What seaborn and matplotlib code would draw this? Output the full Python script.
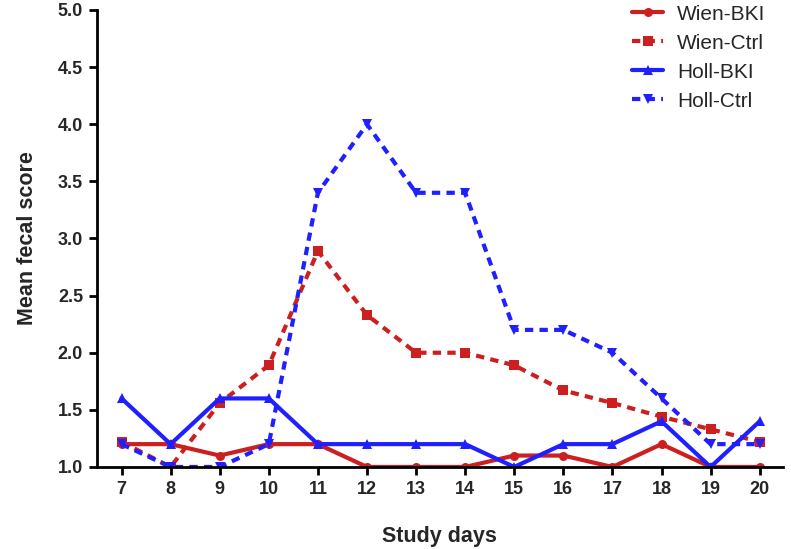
import numpy as np
import pandas as pd
import seaborn as sns
import matplotlib
matplotlib.use("Agg")
import matplotlib.pyplot as plt

# values
days = [7, 8, 9, 10, 11, 12, 13, 14, 15, 16, 17, 18, 19, 20]
wien_bki = [1.2, 1.2, 1.1, 1.2, 1.2, 1.0, 1.0, 1.0, 1.1, 1.1, 1.0, 1.2, 1.0, 1.0]
wien_ctrl = [1.22, 1.0, 1.56, 1.89, 2.89, 2.33, 2.0, 2.0, 1.89, 1.67, 1.56, 1.44, 1.33, 1.22]
holl_bki = [1.6, 1.2, 1.6, 1.6, 1.2, 1.2, 1.2, 1.2, 1.0, 1.2, 1.2, 1.4, 1.0, 1.4]
holl_ctrl = [1.2, 1.0, 1.0, 1.2, 3.4, 4.0, 3.4, 3.4, 2.2, 2.2, 2.0, 1.6, 1.2, 1.2]

series_names = ["Wien-BKI", "Wien-Ctrl", "Holl-BKI", "Holl-Ctrl"]
series_vals = [wien_bki, wien_ctrl, holl_bki, holl_ctrl]

red = "#cc1f1f"
blue = "#1f1fff"
styles = {
    "Wien-BKI": dict(color=red, linestyle="-", marker="o"),
    "Wien-Ctrl": dict(color=red, linestyle=(0, (2, 1.5)), marker="s"),
    "Holl-BKI": dict(color=blue, linestyle="-", marker="^"),
    "Holl-Ctrl": dict(color=blue, linestyle=(0, (2, 1.5)), marker="v"),
}

df = pd.DataFrame({"day": days})
for name, vals in zip(series_names, series_vals):
    df[name] = vals
long = df.melt(id_vars="day", var_name="group", value_name="score")

sns.set_style("ticks")
plt.rcParams["font.family"] = ["Liberation Sans", "DejaVu Sans"]

fig = plt.figure(figsize=(7.91, 5.49), dpi=100)
ax = fig.add_axes([0.1226, 0.1494, 0.867, 0.8324])

for name in series_names:
    sub = long[long["group"] == name]
    st = styles[name]
    sns.lineplot(data=sub, x="day", y="score", ax=ax, label=name,
                 color=st["color"], linestyle=st["linestyle"], marker=st["marker"],
                 markersize=6.5, markeredgewidth=0, linewidth=3)

ax.set_xlim(6.5, 20.47)
ax.set_ylim(1.0, 5.0)
ax.set_xticks(days)
yt = np.arange(1.0, 5.01, 0.5)
ax.set_yticks(yt)
ax.set_yticklabels([f"{v:.1f}" for v in yt])
for lab in ax.get_xticklabels() + ax.get_yticklabels():
    lab.set_fontweight("bold")
ax.tick_params(axis="both", labelsize=13, width=2, length=6, color="black", pad=4)
for s in ["left", "bottom"]:
    ax.spines[s].set_linewidth(2)
    ax.spines[s].set_color("black")
sns.despine(ax=ax)

ax.set_xlabel("Study days", fontsize=15.5, fontweight="bold", labelpad=20)
ax.set_ylabel("Mean fecal score", fontsize=15.5, fontweight="bold", labelpad=14)

ax.legend(loc="upper right", bbox_to_anchor=(0.975, 1.012), frameon=False,
          fontsize=15, handlelength=1.45, handletextpad=0.7, labelspacing=0.48,
          borderaxespad=0, borderpad=0)

fig.savefig("out.png", dpi=100)
